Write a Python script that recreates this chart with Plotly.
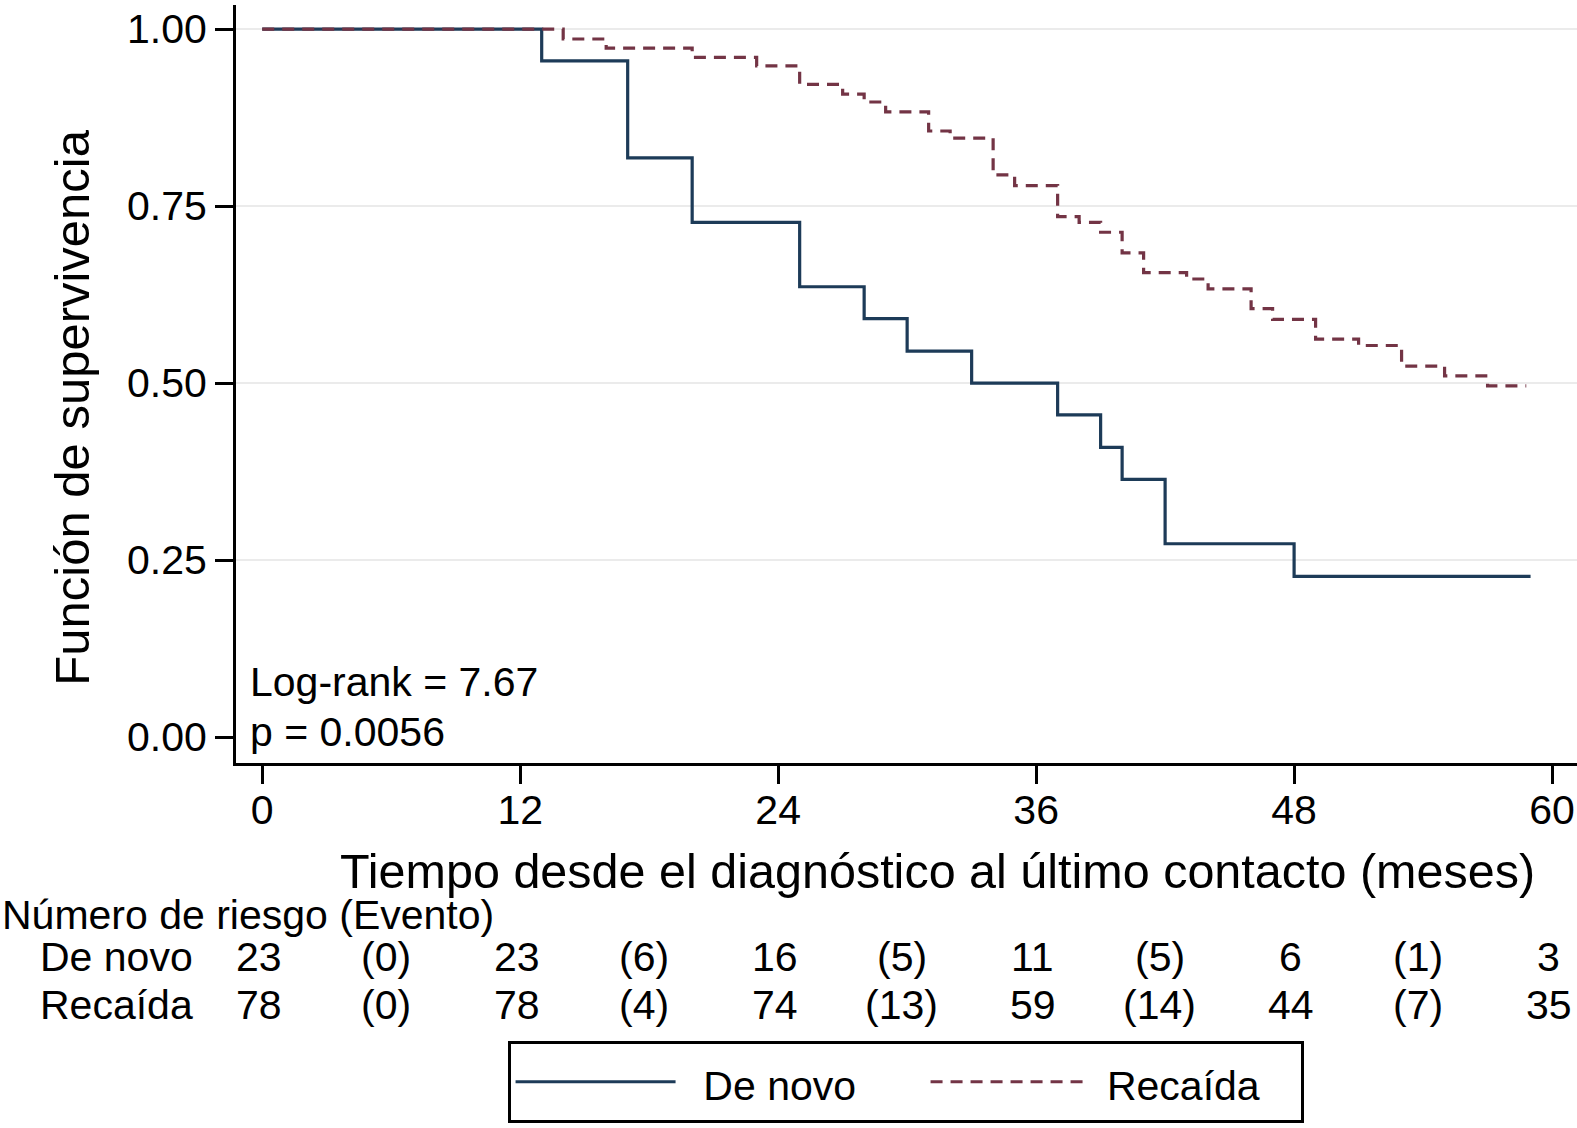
import plotly.graph_objects as go

# Kaplan-Meier steps (months, survival)
denovo_t = [0, 13, 17, 20, 25, 28, 30, 33, 37, 39, 40, 42, 48]
denovo_s = [1.0, 0.955, 0.818, 0.727, 0.636, 0.591, 0.545, 0.500, 0.455, 0.409, 0.364, 0.273, 0.227]
denovo_end = 59

recaida_t = [0, 14, 16, 20, 23, 25, 27, 28, 29, 31, 32, 34, 35, 37, 38, 39, 40, 41,
             43, 44, 46, 47, 49, 51, 53, 55, 57]
recaida_s = [1.0, 0.986, 0.973, 0.960, 0.948, 0.922, 0.908, 0.897, 0.883, 0.856, 0.846,
             0.794, 0.779, 0.735, 0.727, 0.713, 0.684, 0.656, 0.647, 0.633, 0.605, 0.590,
             0.562, 0.553, 0.524, 0.510, 0.496]
recaida_end = 58.8

# numbers at risk (events between)
risk_times = [0, 12, 24, 36, 48, 60]
denovo_risk = [23, 23, 16, 11, 6, 3]
denovo_events = [0, 6, 5, 5, 1]
recaida_risk = [78, 78, 74, 59, 44, 35]
recaida_events = [0, 4, 13, 14, 7]

x_ticks = [0, 12, 24, 36, 48, 60]
y_ticks = [0, 0.25, 0.5, 0.75, 1.0]
y_ticklabels = ["0.00", "0.25", "0.50", "0.75", "1.00"]

FONT = "Liberation Sans"
NAVY = "#1d3b58"
MAROON = "#733445"


def leg_name(txt, pad):
    # legend text at 41px inside a 48px legend font (keeps box as tall as the original)
    return "<span style='font-size:41px'>" + "\u00a0" * pad + txt + "</span>"


fig = go.Figure()
fig.add_trace(go.Scatter(
    x=denovo_t + [denovo_end], y=denovo_s + [denovo_s[-1]],
    mode="lines", line=dict(shape="hv", color=NAVY, width=3.2),
    name=leg_name("De novo", 2), legendwidth=240))
fig.add_trace(go.Scatter(
    x=recaida_t + [recaida_end], y=recaida_s + [recaida_s[-1]],
    mode="lines", line=dict(shape="hv", color=MAROON, width=3.2, dash="12px,8px"),
    name=leg_name("Recaída", 1), legendwidth=200))

# light horizontal grid (not at zero)
for yv in y_ticks[1:]:
    fig.add_shape(type="line", xref="paper", x0=0, x1=1, y0=yv, y1=yv,
                  line=dict(color="#ebebeb", width=2), layer="below")

anns = []
anns.append(dict(text="Log-rank = 7.67", x=0.009, xref="paper", y=0.082, yref="y",
                 xanchor="left", yanchor="middle", showarrow=False, yshift=-3))
anns.append(dict(text="p = 0.0056", x=0.009, xref="paper", y=0.013, yref="y",
                 xanchor="left", yanchor="middle", showarrow=False, yshift=-4))

# axis titles
anns.append(dict(text="Tiempo desde el diagnóstico al último contacto (meses)",
                 x=0.5234, xref="paper", y=-0.1425, yref="paper",
                 xanchor="center", yanchor="middle", showarrow=False, font=dict(size=48.5)))
anns.append(dict(text="Función de supervivencia", textangle=-90,
                 x=-0.122, xref="paper", y=0.4693, yref="paper",
                 xanchor="center", yanchor="middle", showarrow=False, font=dict(size=49)))

# risk table
anns.append(dict(text="Número de riesgo (Evento)", x=-0.176, xref="paper", y=-0.195,
                 yref="paper", xanchor="left", yanchor="middle", showarrow=False, yshift=-4))
row_y = {"De novo": -0.249, "Recaída": -0.313}
for lab, risk, ev in [("De novo", denovo_risk, denovo_events),
                      ("Recaída", recaida_risk, recaida_events)]:
    anns.append(dict(text=lab, x=-0.148, xref="paper", y=row_y[lab], yref="paper",
                     xanchor="left", yanchor="middle", showarrow=False, yshift=-5))
    for t, n in zip(risk_times, risk):
        anns.append(dict(text=str(n), x=t - 0.15, xref="x", y=row_y[lab], yref="paper",
                         xanchor="center", yanchor="middle", showarrow=False, yshift=-5))
    for i, e in enumerate(ev):
        tm = (risk_times[i] + risk_times[i + 1]) / 2
        anns.append(dict(text="(%d)" % e, x=tm - 0.25, xref="x", y=row_y[lab], yref="paper",
                         xanchor="center", yanchor="middle", showarrow=False, yshift=-5))

fig.update_layout(
    width=1577, height=1128,
    margin=dict(l=236, r=0, t=5, b=365),
    paper_bgcolor="white", plot_bgcolor="white",
    font=dict(family=FONT, size=41, color="black"),
    annotations=anns,
    showlegend=True,
    legend=dict(orientation="h", x=0.4993, xanchor="center", y=-0.475, yanchor="bottom",
                bordercolor="black", borderwidth=3, itemwidth=160,
                font=dict(size=48), bgcolor="white"),
)
fig.update_xaxes(range=[-1.22, 61.16], tickvals=x_ticks, showgrid=False, zeroline=False,
                 showline=True, linecolor="black", linewidth=3,
                 ticks="outside", ticklen=18, tickwidth=3, tickcolor="black",
                 tickfont=dict(size=41), ticklabelstandoff=-9)
fig.update_yaxes(range=[-0.0367, 1.034], tickvals=y_ticks, ticktext=y_ticklabels,
                 showgrid=False, zeroline=False,
                 showline=True, linecolor="black", linewidth=3,
                 ticks="outside", ticklen=18, tickwidth=3, tickcolor="black",
                 tickfont=dict(size=41))

fig.write_html("out.html", config={"displayModeBar": False},
               post_script="document.body.style.margin='0';document.body.style.overflow='hidden';")
